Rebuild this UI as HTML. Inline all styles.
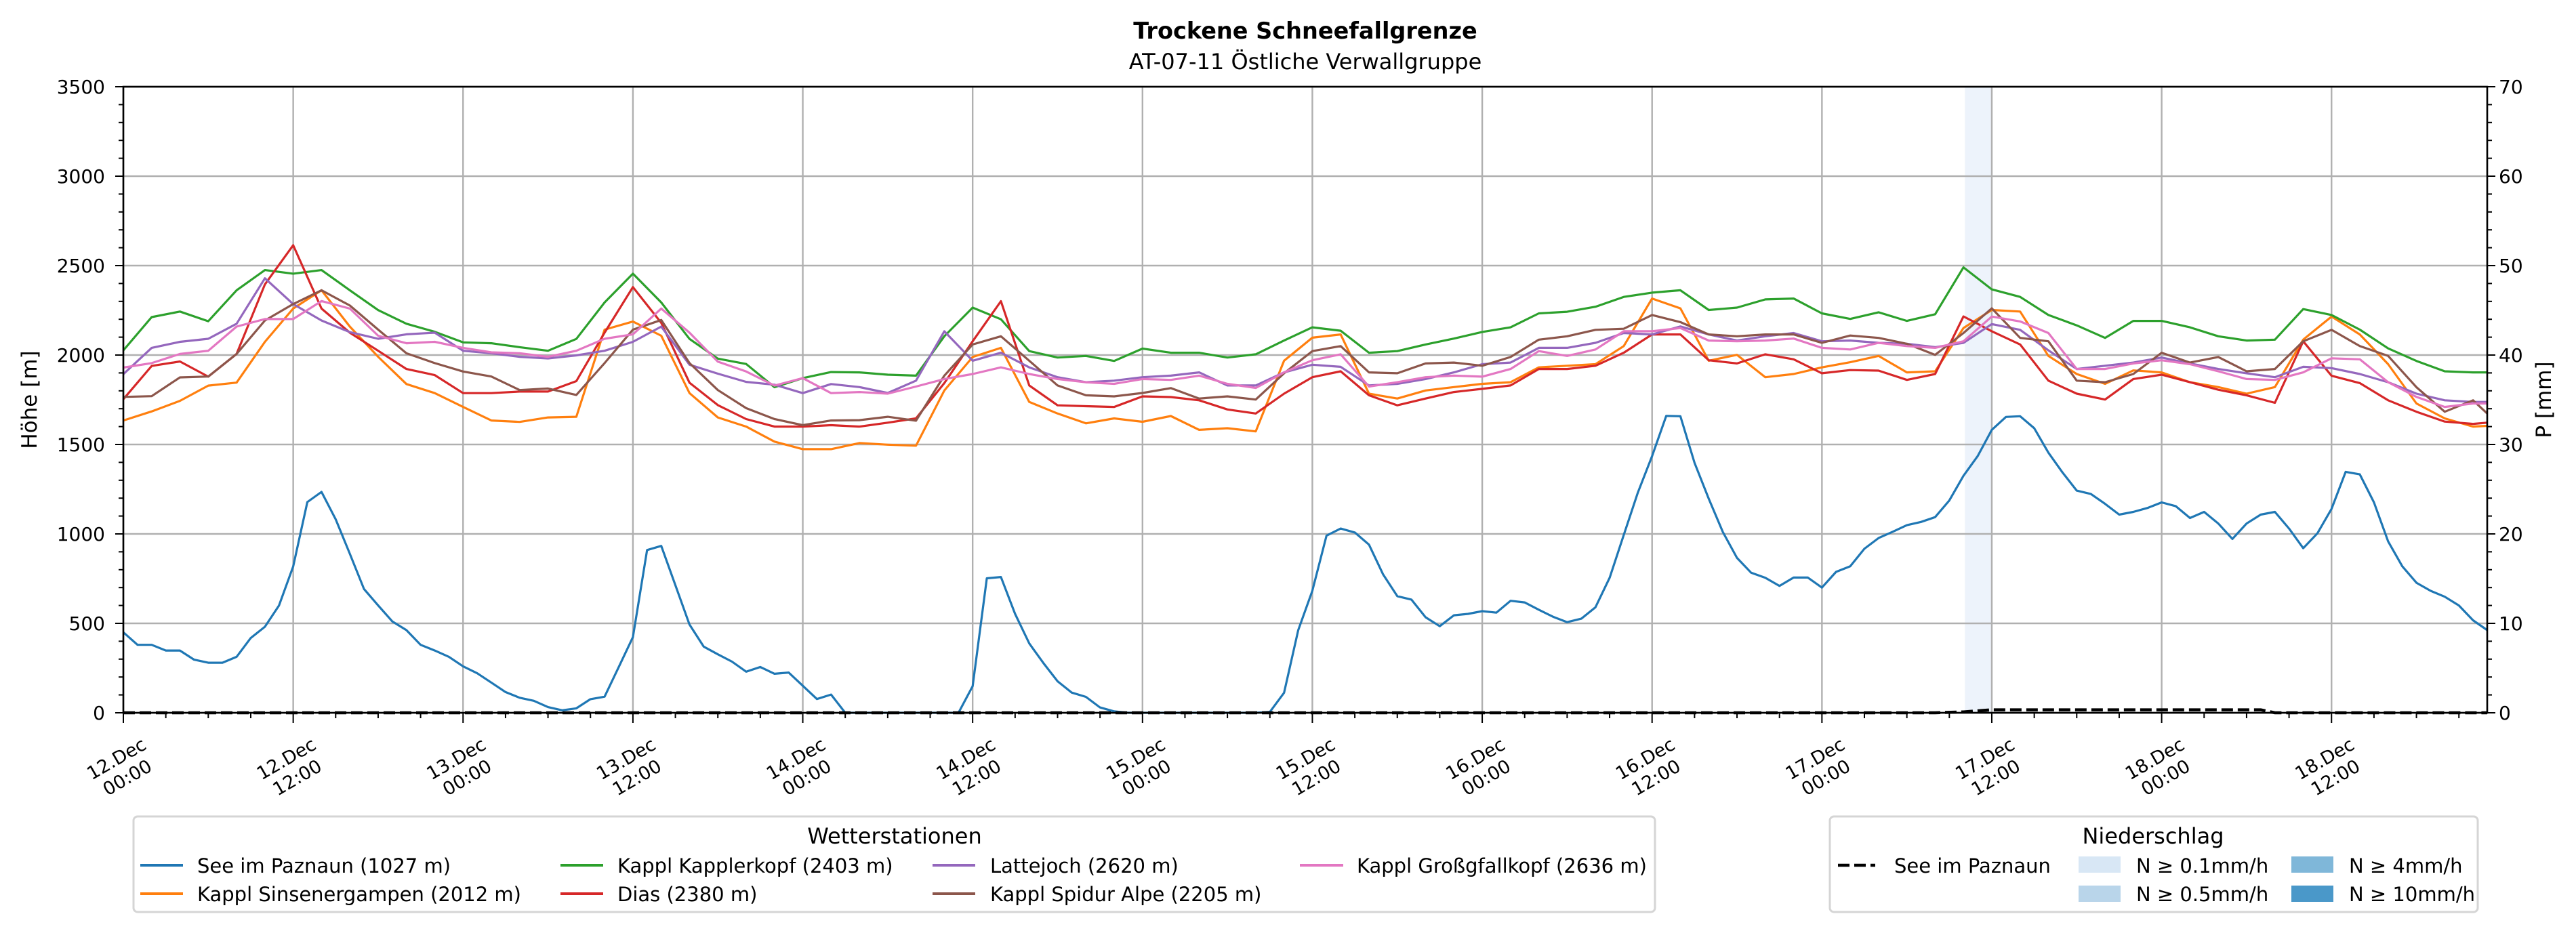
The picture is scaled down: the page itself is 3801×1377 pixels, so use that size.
<!DOCTYPE html>
<html><head><meta charset="utf-8"><title>Trockene Schneefallgrenze</title>
<style>
html,body{margin:0;padding:0;background:#fff;}
svg{display:block;font-family:"DejaVu Sans","Liberation Sans",sans-serif;}
</style></head>
<body>
<svg id="chart" xmlns="http://www.w3.org/2000/svg" width="3801" height="1377" viewBox="0 0 3801 1377">
<rect x="0" y="0" width="3801" height="1377" fill="#fff"/>
<text x="1926" y="57" text-anchor="middle" font-size="33.5" font-weight="bold">Trockene Schneefallgrenze</text>
<text x="1926" y="102" text-anchor="middle" font-size="32">AT-07-11 Östliche Verwallgruppe</text>
<g id="plot"></g>
<text transform="translate(54,590) rotate(-90)" text-anchor="middle" font-size="31">Höhe [m]</text>
<text transform="translate(3764,590) rotate(-90)" text-anchor="middle" font-size="31">P [mm]</text>

<g>
<rect x="197" y="1205" width="2245" height="141" rx="6" fill="#fff" stroke="#d5d5d5" stroke-width="3"/>
<text x="1320" y="1245" text-anchor="middle" font-size="32">Wetterstationen</text>
<g><line x1="207" y1="1277" x2="270" y2="1277" stroke="#1f77b4" stroke-width="4"/><text x="291" y="1288" font-size="29">See im Paznaun (1027 m)</text></g>
<g><line x1="207" y1="1319" x2="270" y2="1319" stroke="#ff7f0e" stroke-width="4"/><text x="291" y="1330" font-size="29">Kappl Sinsenergampen (2012 m)</text></g>
<g><line x1="827" y1="1277" x2="890" y2="1277" stroke="#2ca02c" stroke-width="4"/><text x="911" y="1288" font-size="29">Kappl Kapplerkopf (2403 m)</text></g>
<g><line x1="827" y1="1319" x2="890" y2="1319" stroke="#d62728" stroke-width="4"/><text x="911" y="1330" font-size="29">Dias (2380 m)</text></g>
<g><line x1="1376" y1="1277" x2="1439" y2="1277" stroke="#9467bd" stroke-width="4"/><text x="1461" y="1288" font-size="29">Lattejoch (2620 m)</text></g>
<g><line x1="1376" y1="1319" x2="1439" y2="1319" stroke="#8c564b" stroke-width="4"/><text x="1461" y="1330" font-size="29">Kappl Spidur Alpe (2205 m)</text></g>
<g><line x1="1918" y1="1277" x2="1982" y2="1277" stroke="#e377c2" stroke-width="4"/><text x="2002" y="1288" font-size="29">Kappl Großgfallkopf (2636 m)</text></g>
</g>

<g>
<rect x="2700" y="1205" width="956" height="141" rx="6" fill="#fff" stroke="#d5d5d5" stroke-width="3"/>
<text x="3177" y="1245" text-anchor="middle" font-size="32">Niederschlag</text>
<g><line x1="2712" y1="1277" x2="2767" y2="1277" stroke="#000" stroke-width="4.5" stroke-dasharray="17,7"/><text x="2795" y="1288" font-size="29">See im Paznaun</text></g>
<g><rect x="3067" y="1264" width="62" height="24" fill="#d8e7f5"/><text x="3152" y="1288" font-size="29">N ≥ 0.1mm/h</text></g>
<g><rect x="3067" y="1307" width="62" height="24" fill="#b9d5ea"/><text x="3152" y="1330" font-size="29">N ≥ 0.5mm/h</text></g>
<g><rect x="3381" y="1264" width="62" height="24" fill="#7fb7d9"/><text x="3466" y="1288" font-size="29">N ≥ 4mm/h</text></g>
<g><rect x="3381" y="1307" width="62" height="24" fill="#4a98c9"/><text x="3466" y="1330" font-size="29">N ≥ 10mm/h</text></g>
</g>
</svg>
<script>
const seeHours = Array.from({length:168},(_, i)=>i);
const seeValues = [450,380,380,348,348,297,280,280,313,418,481,600,818,1178,1235,1082,889,692,600,511,462,380,348,313,260,221,169,116,84,67,32,14,25,76,90,256,423,910,933,713,493,370,327,286,230,256,218,225,151,77,102,0,0,0,0,0,0,0,0,0,149,752,759,553,388,278,176,113,89,30,8,0,0,0,0,0,0,0,0,0,0,5,112,462,682,990,1030,1008,940,773,652,633,534,484,545,553,568,560,626,617,576,537,507,526,590,755,994,1232,1435,1660,1658,1397,1197,1011,866,783,755,709,756,756,700,788,819,917,977,1012,1049,1067,1094,1187,1325,1435,1582,1654,1658,1591,1454,1343,1242,1223,1168,1108,1123,1145,1176,1155,1089,1123,1058,972,1058,1108,1123,1030,920,1003,1140,1347,1333,1176,958,819,727,682,649,600,517,462];
const stationHours = [0,2,4,6,8,10,12,14,16,18,20,22,24,26,28,30,32,34,36,38,40,42,44,46,48,50,52,54,56,58,60,62,64,66,68,70,72,74,76,78,80,82,84,86,88,90,92,94,96,98,100,102,104,106,108,110,112,114,116,118,120,122,124,126,128,130,132,134,136,138,140,142,144,146,148,150,152,154,156,158,160,162,164,166,167];
const kapplerkopfValues = [2026,2212,2243,2189,2362,2475,2455,2475,2362,2251,2175,2130,2071,2066,2044,2024,2090,2294,2455,2294,2090,1980,1950,1820,1871,1905,1903,1890,1885,2105,2265,2200,2022,1986,1995,1967,2036,2013,2013,1986,2004,2081,2155,2136,2013,2022,2059,2092,2129,2155,2233,2242,2270,2325,2349,2362,2252,2265,2311,2316,2233,2202,2239,2191,2228,2490,2367,2325,2224,2166,2096,2191,2191,2155,2105,2081,2086,2257,2224,2142,2037,1967,1909,1903,1903];
const sinsenergampenValues = [1634,1685,1744,1829,1846,2074,2260,2362,2159,1990,1838,1787,1710,1634,1626,1651,1655,2142,2187,2108,1787,1651,1600,1516,1474,1474,1508,1499,1493,1802,1989,2040,1738,1673,1618,1646,1627,1659,1582,1591,1573,1968,2097,2115,1784,1757,1802,1821,1839,1848,1931,1940,1949,2050,2316,2261,1968,2001,1876,1894,1931,1960,1995,1903,1909,2151,2252,2243,1995,1894,1839,1914,1903,1848,1821,1784,1821,2086,2215,2115,1949,1729,1646,1600,1604];
const diasValues = [1753,1939,1964,1879,2006,2395,2614,2260,2125,2024,1922,1888,1787,1787,1796,1796,1854,2125,2380,2180,1845,1720,1642,1600,1600,1608,1600,1622,1646,1843,2077,2301,1830,1719,1714,1710,1769,1765,1747,1696,1673,1784,1876,1909,1775,1719,1757,1793,1811,1830,1922,1922,1940,2013,2115,2115,1971,1953,2004,1976,1898,1916,1913,1861,1894,2216,2133,2059,1857,1784,1751,1866,1890,1848,1806,1775,1733,2077,1884,1843,1747,1683,1628,1615,1622];
const lattejochValues = [1893,2040,2074,2091,2175,2429,2285,2193,2128,2091,2116,2125,2024,2010,1990,1981,1998,2024,2074,2159,1946,1896,1850,1834,1787,1838,1821,1788,1857,2133,1968,2013,1931,1876,1848,1857,1876,1885,1903,1830,1830,1903,1946,1934,1830,1839,1866,1903,1949,1958,2040,2040,2068,2123,2115,2160,2115,2081,2105,2123,2077,2081,2068,2063,2044,2068,2173,2141,2026,1922,1940,1958,1986,1953,1922,1898,1876,1934,1927,1894,1848,1784,1747,1738,1738];
const spidurValues = [1766,1770,1875,1880,2006,2193,2285,2362,2277,2142,2010,1955,1908,1880,1804,1813,1777,1955,2142,2196,1955,1804,1703,1642,1608,1634,1636,1655,1633,1885,2059,2105,1968,1830,1775,1769,1788,1815,1757,1769,1751,1898,2022,2050,1903,1898,1953,1958,1940,1989,2086,2105,2141,2147,2224,2184,2115,2105,2115,2115,2068,2109,2096,2063,2001,2123,2261,2096,2077,1857,1848,1894,2013,1958,1989,1909,1922,2077,2141,2050,1995,1820,1683,1747,1673];
const grossgfallValues = [1930,1955,2006,2024,2159,2201,2201,2302,2260,2108,2066,2074,2040,2015,2010,1990,2024,2091,2116,2260,2125,1963,1908,1829,1871,1787,1793,1784,1824,1866,1894,1931,1894,1866,1848,1839,1866,1861,1885,1839,1816,1903,1971,2004,1824,1848,1876,1885,1879,1922,2022,1995,2031,2133,2133,2151,2081,2077,2081,2092,2040,2031,2068,2050,2040,2077,2215,2188,2123,1922,1922,1953,1971,1949,1909,1866,1861,1903,1982,1976,1848,1766,1710,1729,1729];
const precipHours = [0,128,130,132,151,152,167];
const precipValues = [0,0,0.1,0.33,0.33,0,0];
const bandStartHours = [130.1];
const bandEndHours = [132];
const xTickHours = [0,12,24,36,48,60,72,84,96,108,120,132,144,156];
const xTickDays = ['12.Dec','12.Dec','13.Dec','13.Dec','14.Dec','14.Dec','15.Dec','15.Dec','16.Dec','16.Dec','17.Dec','17.Dec','18.Dec','18.Dec'];
const xTickTimes = ['00:00','12:00','00:00','12:00','00:00','12:00','00:00','12:00','00:00','12:00','00:00','12:00','00:00','12:00'];
const yTicks = [0,500,1000,1500,2000,2500,3000,3500];
const y2Ticks = [0,10,20,30,40,50,60,70];

const NS='http://www.w3.org/2000/svg';
const L=182,R=3670,T=128,B=1052,HMAX=167;
const x=h=>L+(R-L)*h/HMAX;
const y=v=>B-(B-T)*v/3500;
const y2=p=>B-(B-T)*p/70;
const plot=document.getElementById('plot');
function mk(tag,attrs,parent){const e=document.createElementNS(NS,tag);for(const k in attrs)e.setAttribute(k,attrs[k]);(parent||plot).appendChild(e);return e;}

for(let i=0;i<bandStartHours.length;i++){
  const b=mk('rect',{x:x(bandStartHours[i]),y:T,width:x(bandEndHours[i])-x(bandStartHours[i]),height:B-T,fill:'#edf3fb'});
  
  
}
yTicks.forEach(v=>{const g=mk('line',{x1:L,x2:R,y1:y(v),y2:y(v),stroke:'#b0b0b0','stroke-width':2.4});
  
  });
xTickHours.forEach(h=>{const g=mk('line',{x1:x(h),x2:x(h),y1:T,y2:B,stroke:'#b0b0b0','stroke-width':2.4});
  
  });

function series(hours,vals,color,name,width){
  const d=hours.map((h,i)=>(i?'L':'M')+x(h).toFixed(1)+','+y(vals[i]).toFixed(1)).join(' ');
  const p=mk('path',{d:d,fill:'none',stroke:color,'stroke-width':width||3.2,'stroke-linejoin':'round'});
  
  
}
series(seeHours,seeValues,'#1f77b4','line-see-im-paznaun');
series(stationHours,sinsenergampenValues,'#ff7f0e','line-sinsenergampen');
series(stationHours,kapplerkopfValues,'#2ca02c','line-kapplerkopf');
series(stationHours,diasValues,'#d62728','line-dias');
series(stationHours,lattejochValues,'#9467bd','line-lattejoch');
series(stationHours,spidurValues,'#8c564b','line-spidur-alpe');
series(stationHours,grossgfallValues,'#e377c2','line-grossgfallkopf');

{const d=precipHours.map((h,i)=>(i?'L':'M')+x(h).toFixed(1)+','+y2(precipValues[i]).toFixed(1)).join(' ');
 const p=mk('path',{d:d,fill:'none',stroke:'#000','stroke-width':4.5,'stroke-dasharray':'17,7'});
 
 }

const sp=mk('rect',{x:L,y:T,width:R-L,height:B-T,fill:'none',stroke:'#000','stroke-width':2.6});



for(let v=0;v<=3500;v+=100){const maj=v%500===0;
  const t=mk('line',{x1:L-(maj?12:7),x2:L,y1:y(v),y2:y(v),stroke:'#000','stroke-width':2});
  
  }
yTicks.forEach(v=>{const t=mk('text',{x:L-27,y:y(v)+10,'text-anchor':'end','font-size':28});t.textContent=v;
  
  });
for(let p=0;p<=70;p+=2){const maj=p%10===0;
  const t=mk('line',{x1:R,x2:R+(maj?12:7),y1:y2(p),y2:y2(p),stroke:'#000','stroke-width':2});
  
  }
y2Ticks.forEach(p=>{const t=mk('text',{x:R+17,y:y2(p)+10,'text-anchor':'start','font-size':28});t.textContent=p;
  
  });
for(let h=0;h<=HMAX;h+=3){const maj=h%12===0;
  const t=mk('line',{x1:x(h),x2:x(h),y1:B,y2:B+(maj?15:8),stroke:'#000','stroke-width':2});
  
  }
xTickHours.forEach((h,i)=>{
  const g=mk('g',{transform:'translate('+(x(h)-2)+',1134) rotate(-30)'});
  
  
  const a=mk('text',{x:0,y:-7,'text-anchor':'middle','font-size':27},g);a.textContent=xTickDays[i];
  const b=mk('text',{x:0,y:25,'text-anchor':'middle','font-size':27},g);b.textContent=xTickTimes[i];
});
</script>
</body></html>
